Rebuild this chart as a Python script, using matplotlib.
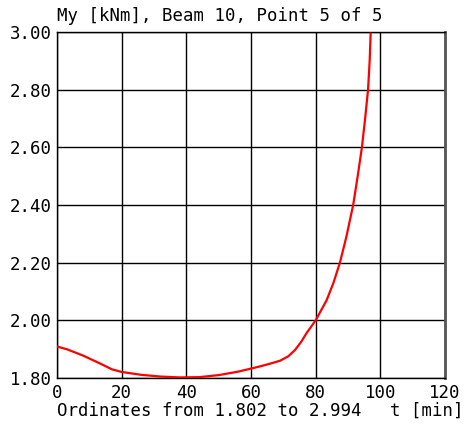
import matplotlib
matplotlib.use("Agg")
import matplotlib.pyplot as plt

# curve (t in min, My in kNm)
t = [0, 3, 8, 13, 17, 20, 26, 32, 38, 44, 50, 56, 62, 66, 69, 71.5, 73.6, 75.5,
     77.2, 80, 83.4, 85.5, 87.5, 89.5, 91.6, 93, 94.3, 95.3, 96.2, 96.7, 97.0]
my = [1.909, 1.900, 1.878, 1.852, 1.830, 1.821, 1.811, 1.805, 1.802, 1.803,
      1.810, 1.822, 1.838, 1.850, 1.860, 1.875, 1.897, 1.925,
      1.956, 2.000, 2.070, 2.130, 2.200, 2.290, 2.400, 2.500, 2.600, 2.700,
      2.800, 2.900, 2.994]

x_ticks = [0, 20, 40, 60, 80, 100, 120]
y_ticks = [1.80, 2.00, 2.20, 2.40, 2.60, 2.80, 3.00]

plt.rcParams["font.family"] = "DejaVu Sans Mono"
fig = plt.figure(figsize=(4.66, 4.25), dpi=100)
ax = fig.add_axes([57 / 466, 1 - 378 / 425, 388 / 466, 346 / 425])

ax.plot(t, my, color="#ff0000", lw=1.6, zorder=3)

ax.set_xlim(0, 120)
ax.set_ylim(1.8, 3.0)
ax.set_xticks(x_ticks)
ax.set_yticks(y_ticks)
ax.set_xticklabels([str(v) for v in x_ticks])
ax.set_yticklabels([f"{v:.2f}" for v in y_ticks])
ax.tick_params(length=0, labelsize=12.5, pad=4)
ax.grid(True, color="black", lw=1)
for s in ax.spines.values():
    s.set_color("black")
    s.set_linewidth(1)
ax.spines["right"].set_color("#555555")
ax.spines["right"].set_linewidth(2)

fig.text(57 / 466, 1 - 16 / 425, "My [kNm], Beam 10, Point 5 of 5",
         fontsize=12.5, ha="left", va="center")
fig.text(57 / 466, 1 - 411 / 425, "Ordinates from 1.802 to 2.994",
         fontsize=12.5, ha="left", va="center")
fig.text(463 / 466, 1 - 411 / 425, "t [min]",
         fontsize=12.5, ha="right", va="center")

fig.savefig("out.png", dpi=100)
